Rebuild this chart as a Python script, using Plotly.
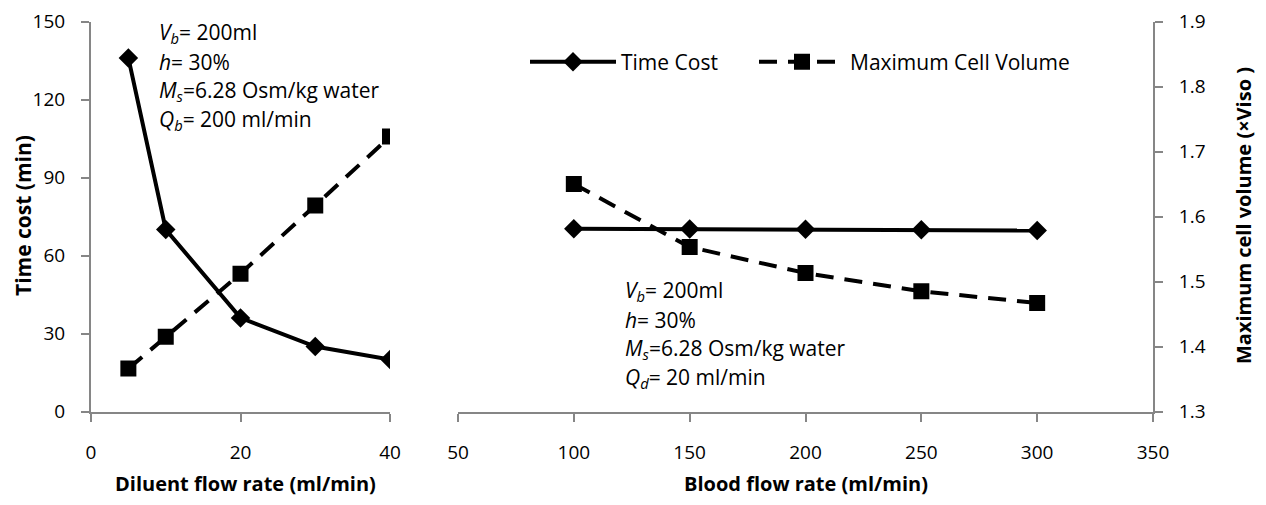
import plotly.graph_objects as go

# ---- data ----
diluent_flow = [5, 10, 20, 30, 40]
time_cost_diluent = [136, 70, 36, 25, 20]
cellvol_diluent = [1.366, 1.415, 1.512, 1.617, 1.723]

blood_flow = [100, 150, 200, 250, 300]
time_cost_blood = [70.3, 70.2, 70.1, 69.9, 69.6]
cellvol_blood = [1.650, 1.553, 1.513, 1.485, 1.467]

left_y_ticks = [0, 30, 60, 90, 120, 150]
right_y_ticks = [1.3, 1.4, 1.5, 1.6, 1.7, 1.8, 1.9]
left_x_ticks = [0, 20, 40]
right_x_ticks = [50, 100, 150, 200, 250, 300, 350]

# page body has an 8px margin; figure is sized so page = 1266 x 505
OFF = 8
W, H = 1266 - 2 * OFF, 505 - 2 * OFF
FONT = "Open Sans"
AX = "#868686"

def px(x):
    return (x - OFF) / W

def py(y):
    return 1 - (y - OFF) / H

ydom = [py(411.5), py(21.5)]

fig = go.Figure()

line_solid = dict(color="black", width=4)
line_dash = dict(color="black", width=4, dash="18px,11px")

fig.add_trace(go.Scatter(x=diluent_flow, y=time_cost_diluent, xaxis="x", yaxis="y",
                         mode="lines+markers", name="Time Cost", line=line_solid,
                         legend="legend",
                         marker=dict(symbol="diamond", size=15, color="black")))
fig.add_trace(go.Scatter(x=diluent_flow, y=cellvol_diluent, xaxis="x", yaxis="y3",
                         mode="lines+markers", name="Maximum Cell Volume", line=line_dash,
                         legend="legend2",
                         marker=dict(symbol="square", size=16, color="black")))
fig.add_trace(go.Scatter(x=blood_flow, y=time_cost_blood, xaxis="x2", yaxis="y4",
                         mode="lines+markers", showlegend=False, line=line_solid,
                         marker=dict(symbol="diamond", size=15, color="black")))
fig.add_trace(go.Scatter(x=blood_flow, y=cellvol_blood, xaxis="x2", yaxis="y2",
                         mode="lines+markers", showlegend=False, line=line_dash,
                         marker=dict(symbol="square", size=16, color="black")))

tickfont = dict(family=FONT, size=19, color="black")
common_axis = dict(showgrid=False, zeroline=False, showline=True, linecolor=AX, linewidth=2,
                   ticks="outside", ticklen=8, tickwidth=2, tickcolor=AX, tickfont=tickfont,
                   automargin=False)

legend_common = dict(orientation="h", y=py(62), xanchor="left", yanchor="middle",
                     font=dict(family=FONT, size=21, color="black"), itemwidth=86,
                     bgcolor="rgba(0,0,0,0)")

fig.update_layout(
    width=W, height=H,
    autosize=False,
    margin=dict(l=0, r=0, t=0, b=0, pad=0, autoexpand=False),
    paper_bgcolor="white", plot_bgcolor="rgba(0,0,0,0)",
    font=dict(family=FONT, color="black"),
    xaxis=dict(domain=[px(91), px(390)], range=[0, 40], tickvals=left_x_ticks,
               anchor="y", ticklabelstandoff=15, **common_axis),
    yaxis=dict(domain=ydom, range=[0, 150], tickvals=left_y_ticks, anchor="x",
               side="left", ticklabelstandoff=12, **common_axis),
    yaxis3=dict(range=[1.3, 1.9], overlaying="y", anchor="x", visible=False),
    xaxis2=dict(domain=[px(458), px(1153)], range=[50, 350], tickvals=right_x_ticks,
                anchor="y2", ticklabelstandoff=15, **common_axis),
    yaxis2=dict(domain=ydom, range=[1.3, 1.9], tickvals=right_y_ticks, anchor="x2",
                side="right", tickformat=".1f", ticklabelstandoff=12, **common_axis),
    yaxis4=dict(range=[0, 150], overlaying="y2", anchor="x2", visible=False),
    legend=dict(x=px(525), **legend_common),
    legend2=dict(x=px(754), **legend_common),
    showlegend=True,
)

ann_font = dict(family=FONT, size=21, color="black")
left_note = ["<i>V</i><sub><i>b</i></sub>= 200ml", "<i>h</i>= 30%",
             "<i>M</i><sub><i>s</i></sub>=6.28 Osm/kg water", "<i>Q</i><sub><i>b</i></sub>= 200 ml/min"]
right_note = ["<i>V</i><sub><i>b</i></sub>= 200ml", "<i>h</i>= 30%",
              "<i>M</i><sub><i>s</i></sub>=6.28 Osm/kg water", "<i>Q</i><sub><i>d</i></sub>= 20 ml/min"]
for i, t in enumerate(left_note):
    fig.add_annotation(text=t, xref="paper", yref="paper", x=px(157), y=py(33 + 29 * i),
                       xanchor="left", yanchor="middle", showarrow=False, font=ann_font)
for i, t in enumerate(right_note):
    fig.add_annotation(text=t, xref="paper", yref="paper", x=px(623), y=py(291 + 29 * i),
                       xanchor="left", yanchor="middle", showarrow=False, font=ann_font)

title_font = dict(family=FONT, size=20, color="black")
fig.add_annotation(text="<b>Diluent flow rate (ml/min)</b>", xref="paper", yref="paper",
                   x=px(245), y=py(483), xanchor="center", yanchor="middle",
                   showarrow=False, font=title_font)
fig.add_annotation(text="<b>Blood flow rate (ml/min)</b>", xref="paper", yref="paper",
                   x=px(806), y=py(483), xanchor="center", yanchor="middle",
                   showarrow=False, font=title_font)
fig.add_annotation(text="<b>Time cost (min)</b>", xref="paper", yref="paper",
                   x=px(23), y=py(216), xanchor="center", yanchor="middle", textangle=-90,
                   showarrow=False, font=dict(family=FONT, size=21, color="black"))
fig.add_annotation(text="<b>Maximum cell volume (×Viso )</b>", xref="paper", yref="paper",
                   x=px(1243), y=py(216), xanchor="center", yanchor="middle", textangle=-90,
                   showarrow=False, font=title_font)

fig.write_html("out.html")
